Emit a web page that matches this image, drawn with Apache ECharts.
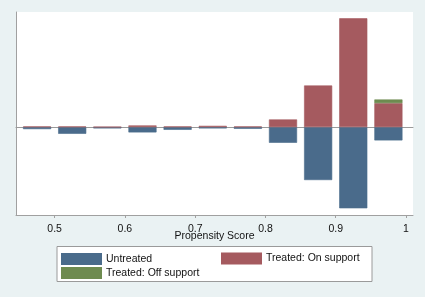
<!DOCTYPE html>
<html>
<head>
<meta charset="utf-8">
<script src="https://cdn.jsdelivr.net/npm/echarts@6/dist/echarts.min.js"></script>
<style>
  html, body { margin: 0; padding: 0; background: #eaf2f3; }
  #chart { width: 425px; height: 297px; }
</style>
</head>
<body>
<div id="chart"></div>
<script>
// propensity score bins (width 0.05), from 0.45 to 1.0
const binLabels = ['0.45-0.50', '0.50-0.55', '0.55-0.60', '0.60-0.65', '0.65-0.70', '0.70-0.75',
  '0.75-0.80', '0.80-0.85', '0.85-0.90', '0.90-0.95', '0.95-1.00'];
// untreated drawn below zero
const untreated = [-2, -6.7, -1.3, -5.3, -2.7, -1.3, -1.7, -15.7, -53, -81.3, -13.3];
const treatedOn = [0.7, 0.7, 0.3, 1.7, 0.7, 1.3, 0.7, 7.7, 41.7, 109, 24];
const treatedOff = ['-', '-', '-', '-', '-', '-', '-', '-', '-', '-', 3.7];
const xTicks = [0.5, 0.6, 0.7, 0.8, 0.9, 1];

const font = 'Liberation Sans, Arial, sans-serif';

// plot area and axis ranges
const W = 425;
const plotLeft = 16, plotRight = 413;
const xMin = 0.445, xMax = 1.01;
const binLo = 0.45, binHi = 1.0;
const yMin = -88, yMax = 115.3;

// place the bar grid so the bins line up with the value axis
const pxPerUnit = (plotRight - plotLeft) / (xMax - xMin);
const barLeft = plotLeft + (binLo - xMin) * pxPerUnit;
const barRight = plotLeft + (binHi - xMin) * pxPerUnit;

function barSeries(name, vals, color) {
  return {
    name: name,
    type: 'bar',
    stack: 'ps',
    xAxisIndex: 2,
    yAxisIndex: 1,
    barWidth: '80%',
    data: vals,
    itemStyle: { color: color, borderColor: color, borderWidth: 0.6 },
    emphasis: { disabled: true }
  };
}

const chart = echarts.init(document.getElementById('chart'));

chart.setOption({
  backgroundColor: '#eaf2f3',
  animation: false,
  textStyle: { fontFamily: font },
  grid: [
    {
      left: plotLeft, right: W - plotRight, top: 12, bottom: 82,
      show: true, backgroundColor: '#ffffff', borderWidth: 0
    },
    {
      left: barLeft, right: W - barRight, top: 12, bottom: 82
    }
  ],
  xAxis: [
    {
      type: 'value',
      gridIndex: 0,
      min: xMin,
      max: xMax,
      name: 'Propensity Score',
      nameLocation: 'middle',
      nameGap: 16,
      nameMoveOverlap: false,
      nameTextStyle: { color: '#111', fontSize: 10.5, fontFamily: font },
      axisLine: { show: true, onZero: false, lineStyle: { color: '#a0a0a0', width: 1 } },
      axisTick: { show: true, length: 3, customValues: xTicks, lineStyle: { color: '#a0a0a0' } },
      axisLabel: {
        customValues: xTicks,
        color: '#111', fontSize: 10.5, margin: 9,
        formatter: v => String(v)
      },
      splitLine: { show: false }
    },
    {
      // zero reference line across the plot
      type: 'value',
      gridIndex: 0,
      position: 'top',
      min: xMin,
      max: xMax,
      axisLine: { show: true, onZero: true, lineStyle: { color: '#9a9a9a', width: 1 } },
      axisTick: { show: false },
      axisLabel: { show: false },
      splitLine: { show: false }
    },
    {
      type: 'category',
      gridIndex: 1,
      data: binLabels,
      axisLine: { show: false },
      axisTick: { show: false },
      axisLabel: { show: false }
    }
  ],
  yAxis: [
    {
      type: 'value',
      gridIndex: 0,
      min: yMin,
      max: yMax,
      axisLine: { show: true, lineStyle: { color: '#a0a0a0', width: 1 } },
      axisTick: { show: false },
      axisLabel: { show: false },
      splitLine: { show: false }
    },
    {
      type: 'value',
      gridIndex: 1,
      min: yMin,
      max: yMax,
      axisLine: { show: false },
      axisTick: { show: false },
      axisLabel: { show: false },
      splitLine: { show: false }
    }
  ],
  legend: [
    {
      data: ['Untreated', 'Treated: Off support'],
      orient: 'vertical',
      left: 56, top: 248,
      itemWidth: 39, itemHeight: 10, itemGap: 2,
      icon: 'rect',
      selectedMode: false,
      textStyle: { color: '#111', fontSize: 10.5, fontFamily: font }
    },
    {
      data: ['Treated: On support'],
      orient: 'vertical',
      left: 216, top: 247.5,
      itemWidth: 39, itemHeight: 10,
      icon: 'rect',
      selectedMode: false,
      textStyle: { color: '#111', fontSize: 10.5, fontFamily: font }
    }
  ],
  graphic: [{
    type: 'rect',
    z: -1,
    shape: { x: 57, y: 246.5, width: 315, height: 35 },
    style: { fill: '#ffffff', stroke: '#9a9a9a', lineWidth: 1 }
  }],
  series: [
    barSeries('Untreated', untreated, '#4a6b8b'),
    barSeries('Treated: On support', treatedOn, '#a55a5f'),
    barSeries('Treated: Off support', treatedOff, '#6e8b50')
  ]
});
</script>
</body>
</html>
